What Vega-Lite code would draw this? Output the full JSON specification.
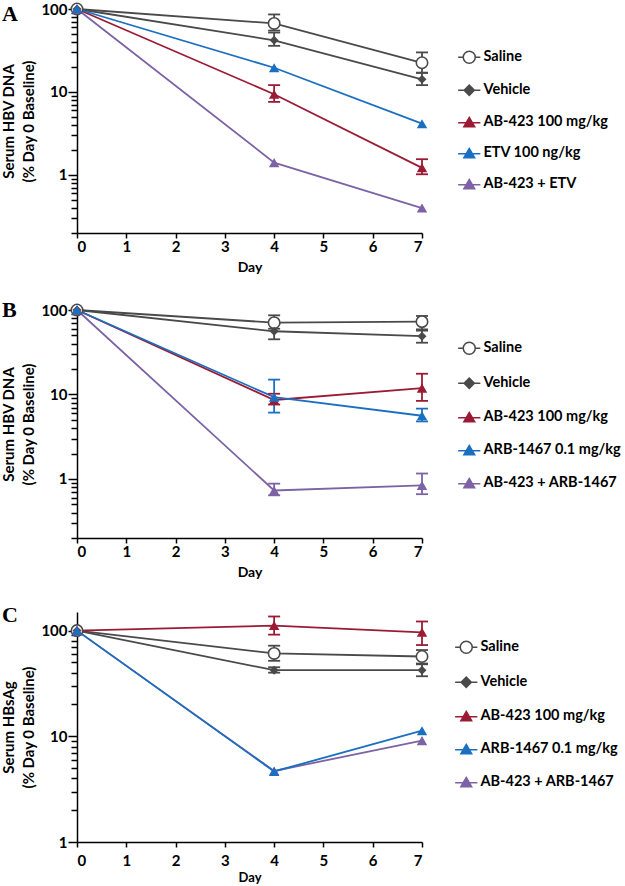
{
"$schema":"https://vega.github.io/schema/vega-lite/v6.json",
"background":"white",
"padding":{"left":1,"top":0,"right":0,"bottom":0},
"spacing":25,
"data":{"values":[
{"panel":"A","series":"Saline","day":0,"value":100},
{"panel":"A","series":"Saline","day":4,"value":67,"lo":55,"hi":86},
{"panel":"A","series":"Saline","day":7,"value":22.5,"lo":17,"hi":30},
{"panel":"A","series":"Vehicle","day":0,"value":100},
{"panel":"A","series":"Vehicle","day":4,"value":42,"lo":36,"hi":52},
{"panel":"A","series":"Vehicle","day":7,"value":14.2,"lo":12.1,"hi":17.1},
{"panel":"A","series":"AB-423 + ETV","day":0,"value":100},
{"panel":"A","series":"AB-423 + ETV","day":4,"value":1.41},
{"panel":"A","series":"AB-423 + ETV","day":7,"value":0.4},
{"panel":"A","series":"AB-423 100 mg/kg","day":0,"value":100},
{"panel":"A","series":"AB-423 100 mg/kg","day":4,"value":9.4,"lo":7.6,"hi":12.1},
{"panel":"A","series":"AB-423 100 mg/kg","day":7,"value":1.22,"lo":1.02,"hi":1.55},
{"panel":"A","series":"ETV 100 ng/kg","day":0,"value":100},
{"panel":"A","series":"ETV 100 ng/kg","day":4,"value":19.6},
{"panel":"A","series":"ETV 100 ng/kg","day":7,"value":4.15},
{"panel":"B","series":"Saline","day":0,"value":100},
{"panel":"B","series":"Saline","day":4,"value":70.8,"lo":60,"hi":86.5},
{"panel":"B","series":"Saline","day":7,"value":72.8,"lo":59,"hi":85},
{"panel":"B","series":"Vehicle","day":0,"value":100},
{"panel":"B","series":"Vehicle","day":4,"value":56,"lo":45,"hi":68},
{"panel":"B","series":"Vehicle","day":7,"value":49,"lo":41,"hi":57},
{"panel":"B","series":"AB-423 + ARB-1467","day":0,"value":100},
{"panel":"B","series":"AB-423 + ARB-1467","day":4,"value":0.73,"lo":0.64,"hi":0.88},
{"panel":"B","series":"AB-423 + ARB-1467","day":7,"value":0.84,"lo":0.66,"hi":1.16},
{"panel":"B","series":"AB-423 100 mg/kg","day":0,"value":100},
{"panel":"B","series":"AB-423 100 mg/kg","day":4,"value":8.6,"lo":7.6,"hi":10.2},
{"panel":"B","series":"AB-423 100 mg/kg","day":7,"value":11.9,"lo":8.4,"hi":17.6},
{"panel":"B","series":"ARB-1467 0.1 mg/kg","day":0,"value":100},
{"panel":"B","series":"ARB-1467 0.1 mg/kg","day":4,"value":9.3,"lo":6.1,"hi":15},
{"panel":"B","series":"ARB-1467 0.1 mg/kg","day":7,"value":5.6,"lo":4.8,"hi":6.8},
{"panel":"C","series":"Saline","day":0,"value":100},
{"panel":"C","series":"Saline","day":4,"value":60.8,"lo":51.8,"hi":72},
{"panel":"C","series":"Saline","day":7,"value":56.9,"lo":48,"hi":65.5},
{"panel":"C","series":"Vehicle","day":0,"value":100},
{"panel":"C","series":"Vehicle","day":4,"value":42.2,"lo":40,"hi":45},
{"panel":"C","series":"Vehicle","day":7,"value":42.2,"lo":37,"hi":48.8},
{"panel":"C","series":"AB-423 + ARB-1467","day":0,"value":100},
{"panel":"C","series":"AB-423 + ARB-1467","day":4,"value":4.7},
{"panel":"C","series":"AB-423 + ARB-1467","day":7,"value":9.1},
{"panel":"C","series":"AB-423 100 mg/kg","day":0,"value":100},
{"panel":"C","series":"AB-423 100 mg/kg","day":4,"value":111.6,"lo":91.6,"hi":136},
{"panel":"C","series":"AB-423 100 mg/kg","day":7,"value":96.4,"lo":73,"hi":122},
{"panel":"C","series":"ARB-1467 0.1 mg/kg","day":0,"value":100},
{"panel":"C","series":"ARB-1467 0.1 mg/kg","day":4,"value":4.65},
{"panel":"C","series":"ARB-1467 0.1 mg/kg","day":7,"value":11.3}
]},
"resolve":{"scale":{"x":"independent","y":"independent","color":"independent","stroke":"independent","fill":"independent","shape":"independent"},"legend":{"color":"independent","stroke":"independent","fill":"independent","shape":"independent"}},
"vconcat":[
{
"title":{"text":"A","anchor":"start","frame":"bounds","font":"Liberation Serif","fontSize":22,"fontWeight":"bold","color":"#000","dy":30},
"width":345,"height":224,
"transform":[{"filter":"datum.panel=='A'"}],
"encoding":{
"x":{"field":"day","type":"quantitative","title":"Day","scale":{"domain":[0,7],"nice":false,"zero":false},"axis":{"values":[0,1,2,3,4,5,6,7],"format":"d","titlePadding":6}},
"y":{"field":"value","type":"quantitative","title":["Serum HBV DNA","(% Day 0 Baseline)"],"scale":{"type":"log","domain":[0.2,100],"nice":false},"axis":{"values":[0.2,0.3,0.4,0.5,0.6,0.7,0.8,0.9,1,2,3,4,5,6,7,8,9,10,20,30,40,50,60,70,80,90,100],"labelExpr":"(datum.value==1||datum.value==10||datum.value==100)?(''+datum.value):''","labelOverlap":false,"tickSize":{"condition":{"test":"datum.value==1||datum.value==10||datum.value==100","value":9},"value":6}}},
"color":{"field":"series","type":"nominal","scale":{"domain":["AB-423 + ETV","ETV 100 ng/kg","AB-423 100 mg/kg","Vehicle","Saline"],"range":["#7d63a5","#1b6fc0","#9b1b35","#4a4a4a","#4a4a4a"]},"legend":null}
},
"layer":[
{"mark":{"type":"line","strokeWidth":1.8}},
{"transform":[{"filter":"isValid(datum.lo)"}],"mark":{"type":"rule","strokeWidth":1.8},"encoding":{"y":{"field":"lo","type":"quantitative","title":["Serum HBV DNA","(% Day 0 Baseline)"]},"y2":{"field":"hi"}}},
{"transform":[{"filter":"isValid(datum.lo)"}],"mark":{"type":"rule","strokeWidth":1.8,"xOffset":-6,"x2Offset":6},"encoding":{"x2":{"field":"day"},"y":{"field":"lo","type":"quantitative","title":["Serum HBV DNA","(% Day 0 Baseline)"]}}},
{"transform":[{"filter":"isValid(datum.hi)"}],"mark":{"type":"rule","strokeWidth":1.8,"xOffset":-6,"x2Offset":6},"encoding":{"x2":{"field":"day"},"y":{"field":"hi","type":"quantitative","title":["Serum HBV DNA","(% Day 0 Baseline)"]}}},
{"transform":[{"filter":"datum.series=='Saline'"}],"mark":{"type":"point","shape":"circle","size":130,"filled":false,"fill":"#ffffff","opacity":1,"strokeWidth":1.6}},
{"transform":[{"filter":"datum.series=='Vehicle'"}],"mark":{"type":"point","shape":"diamond","size":80,"filled":true,"opacity":1}},
{"transform":[{"filter":"datum.series!='Saline'&&datum.series!='Vehicle'"}],"mark":{"type":"point","shape":"triangle-up","size":110,"filled":true,"opacity":1}},
{"mark":{"type":"point","opacity":0,"filled":true,"size":144,"strokeWidth":1.5},"encoding":{
"color":null,
"shape":{"field":"series","type":"nominal","scale":{"domain":["Saline","Vehicle","AB-423 100 mg/kg","ETV 100 ng/kg","AB-423 + ETV"],"range":["M-1.85,0H-1M1,0H1.85M1,0A1,1,0,1,1,-1,0A1,1,0,1,1,1,0Z","M-1.85,0H1.85M0,-0.85L0.85,0L0,0.85L-0.85,0Z","M-1.85,0.1H1.85M0,-0.8L0.9,0.75L-0.9,0.75Z","M-1.85,0.1H1.85M0,-0.8L0.9,0.75L-0.9,0.75Z","M-1.85,0.1H1.85M0,-0.8L0.9,0.75L-0.9,0.75Z"]},"legend":{"orient":"none","legendX":385,"legendY":41,"title":null,"labelOffset":7,"rowPadding":15,"symbolOpacity":1,"symbolSize":144,"symbolStrokeWidth":1.5}},
"fill":{"field":"series","type":"nominal","scale":{"domain":["Saline","Vehicle","AB-423 100 mg/kg","ETV 100 ng/kg","AB-423 + ETV"],"range":["#ffffff","#4a4a4a","#9b1b35","#1b6fc0","#7d63a5"]},"legend":{"orient":"none","legendX":385,"legendY":41,"title":null,"labelOffset":7,"rowPadding":15,"symbolOpacity":1,"symbolSize":144,"symbolStrokeWidth":1.5}},
"stroke":{"field":"series","type":"nominal","scale":{"domain":["Saline","Vehicle","AB-423 100 mg/kg","ETV 100 ng/kg","AB-423 + ETV"],"range":["#4a4a4a","#4a4a4a","#9b1b35","#1b6fc0","#7d63a5"]},"legend":{"orient":"none","legendX":385,"legendY":41,"title":null,"labelOffset":7,"rowPadding":15,"symbolOpacity":1,"symbolSize":144,"symbolStrokeWidth":1.5}}
}}
]
},
{
"title":{"text":"B","anchor":"start","frame":"bounds","font":"Liberation Serif","fontSize":22,"fontWeight":"bold","color":"#000","dy":25},
"width":345,"height":228,
"transform":[{"filter":"datum.panel=='B'"}],
"encoding":{
"x":{"field":"day","type":"quantitative","title":"Day","scale":{"domain":[0,7],"nice":false,"zero":false},"axis":{"values":[0,1,2,3,4,5,6,7],"format":"d","titlePadding":6}},
"y":{"field":"value","type":"quantitative","title":["Serum HBV DNA","(% Day 0 Baseline)"],"scale":{"type":"log","domain":[0.2,100],"nice":false},"axis":{"values":[0.2,0.3,0.4,0.5,0.6,0.7,0.8,0.9,1,2,3,4,5,6,7,8,9,10,20,30,40,50,60,70,80,90,100],"labelExpr":"(datum.value==1||datum.value==10||datum.value==100)?(''+datum.value):''","labelOverlap":false,"tickSize":{"condition":{"test":"datum.value==1||datum.value==10||datum.value==100","value":9},"value":6}}},
"color":{"field":"series","type":"nominal","scale":{"domain":["AB-423 + ARB-1467","ARB-1467 0.1 mg/kg","AB-423 100 mg/kg","Vehicle","Saline"],"range":["#7d63a5","#1b6fc0","#9b1b35","#4a4a4a","#4a4a4a"]},"legend":null}
},
"layer":[
{"mark":{"type":"line","strokeWidth":1.8}},
{"transform":[{"filter":"isValid(datum.lo)"}],"mark":{"type":"rule","strokeWidth":1.8},"encoding":{"y":{"field":"lo","type":"quantitative","title":["Serum HBV DNA","(% Day 0 Baseline)"]},"y2":{"field":"hi"}}},
{"transform":[{"filter":"isValid(datum.lo)"}],"mark":{"type":"rule","strokeWidth":1.8,"xOffset":-6,"x2Offset":6},"encoding":{"x2":{"field":"day"},"y":{"field":"lo","type":"quantitative","title":["Serum HBV DNA","(% Day 0 Baseline)"]}}},
{"transform":[{"filter":"isValid(datum.hi)"}],"mark":{"type":"rule","strokeWidth":1.8,"xOffset":-6,"x2Offset":6},"encoding":{"x2":{"field":"day"},"y":{"field":"hi","type":"quantitative","title":["Serum HBV DNA","(% Day 0 Baseline)"]}}},
{"transform":[{"filter":"datum.series=='Saline'"}],"mark":{"type":"point","shape":"circle","size":130,"filled":false,"fill":"#ffffff","opacity":1,"strokeWidth":1.6}},
{"transform":[{"filter":"datum.series=='Vehicle'"}],"mark":{"type":"point","shape":"diamond","size":80,"filled":true,"opacity":1}},
{"transform":[{"filter":"datum.series!='Saline'&&datum.series!='Vehicle'"}],"mark":{"type":"point","shape":"triangle-up","size":110,"filled":true,"opacity":1}},
{"mark":{"type":"point","opacity":0,"filled":true,"size":144,"strokeWidth":1.5},"encoding":{
"color":null,
"shape":{"field":"series","type":"nominal","scale":{"domain":["Saline","Vehicle","AB-423 100 mg/kg","ARB-1467 0.1 mg/kg","AB-423 + ARB-1467"],"range":["M-1.85,0H-1M1,0H1.85M1,0A1,1,0,1,1,-1,0A1,1,0,1,1,1,0Z","M-1.85,0H1.85M0,-0.85L0.85,0L0,0.85L-0.85,0Z","M-1.85,0.1H1.85M0,-0.8L0.9,0.75L-0.9,0.75Z","M-1.85,0.1H1.85M0,-0.8L0.9,0.75L-0.9,0.75Z","M-1.85,0.1H1.85M0,-0.8L0.9,0.75L-0.9,0.75Z"]},"legend":{"orient":"none","legendX":385,"legendY":31,"title":null,"labelOffset":7,"rowPadding":17,"symbolOpacity":1,"symbolSize":144,"symbolStrokeWidth":1.5}},
"fill":{"field":"series","type":"nominal","scale":{"domain":["Saline","Vehicle","AB-423 100 mg/kg","ARB-1467 0.1 mg/kg","AB-423 + ARB-1467"],"range":["#ffffff","#4a4a4a","#9b1b35","#1b6fc0","#7d63a5"]},"legend":{"orient":"none","legendX":385,"legendY":31,"title":null,"labelOffset":7,"rowPadding":17,"symbolOpacity":1,"symbolSize":144,"symbolStrokeWidth":1.5}},
"stroke":{"field":"series","type":"nominal","scale":{"domain":["Saline","Vehicle","AB-423 100 mg/kg","ARB-1467 0.1 mg/kg","AB-423 + ARB-1467"],"range":["#4a4a4a","#4a4a4a","#9b1b35","#1b6fc0","#7d63a5"]},"legend":{"orient":"none","legendX":385,"legendY":31,"title":null,"labelOffset":7,"rowPadding":17,"symbolOpacity":1,"symbolSize":144,"symbolStrokeWidth":1.5}}
}}
]
},
{
"title":{"text":"C","anchor":"start","frame":"bounds","font":"Liberation Serif","fontSize":22,"fontWeight":"bold","color":"#000","dy":19},
"width":345,"height":230,
"transform":[{"filter":"datum.panel=='C'"}],
"encoding":{
"x":{"field":"day","type":"quantitative","title":"Day","scale":{"domain":[0,7],"nice":false,"zero":false},"axis":{"values":[0,1,2,3,4,5,6,7],"format":"d","titleFontSize":13,"titlePadding":3,"labelPadding":6}},
"y":{"field":"value","type":"quantitative","title":["Serum HBsAg","(% Day 0 Baseline)"],"scale":{"type":"log","domain":[1,150],"nice":false},"axis":{"values":[1,2,3,4,5,6,7,8,9,10,20,30,40,50,60,70,80,90,100],"labelExpr":"(datum.value==1||datum.value==10||datum.value==100)?(''+datum.value):''","labelOverlap":false,"tickSize":{"condition":{"test":"datum.value==1||datum.value==10||datum.value==100","value":9},"value":6}}},
"color":{"field":"series","type":"nominal","scale":{"domain":["AB-423 + ARB-1467","ARB-1467 0.1 mg/kg","AB-423 100 mg/kg","Vehicle","Saline"],"range":["#7d63a5","#1b6fc0","#9b1b35","#4a4a4a","#4a4a4a"]},"legend":null}
},
"layer":[
{"mark":{"type":"line","strokeWidth":1.8}},
{"transform":[{"filter":"isValid(datum.lo)"}],"mark":{"type":"rule","strokeWidth":1.8},"encoding":{"y":{"field":"lo","type":"quantitative","title":["Serum HBsAg","(% Day 0 Baseline)"]},"y2":{"field":"hi"}}},
{"transform":[{"filter":"isValid(datum.lo)"}],"mark":{"type":"rule","strokeWidth":1.8,"xOffset":-6,"x2Offset":6},"encoding":{"x2":{"field":"day"},"y":{"field":"lo","type":"quantitative","title":["Serum HBsAg","(% Day 0 Baseline)"]}}},
{"transform":[{"filter":"isValid(datum.hi)"}],"mark":{"type":"rule","strokeWidth":1.8,"xOffset":-6,"x2Offset":6},"encoding":{"x2":{"field":"day"},"y":{"field":"hi","type":"quantitative","title":["Serum HBsAg","(% Day 0 Baseline)"]}}},
{"transform":[{"filter":"datum.series=='Saline'"}],"mark":{"type":"point","shape":"circle","size":130,"filled":false,"fill":"#ffffff","opacity":1,"strokeWidth":1.6}},
{"transform":[{"filter":"datum.series=='Vehicle'"}],"mark":{"type":"point","shape":"diamond","size":80,"filled":true,"opacity":1}},
{"transform":[{"filter":"datum.series!='Saline'&&datum.series!='Vehicle'"}],"mark":{"type":"point","shape":"triangle-up","size":110,"filled":true,"opacity":1}},
{"mark":{"type":"point","opacity":0,"filled":true,"size":144,"strokeWidth":1.5},"encoding":{
"color":null,
"shape":{"field":"series","type":"nominal","scale":{"domain":["Saline","Vehicle","AB-423 100 mg/kg","ARB-1467 0.1 mg/kg","AB-423 + ARB-1467"],"range":["M-1.85,0H-1M1,0H1.85M1,0A1,1,0,1,1,-1,0A1,1,0,1,1,1,0Z","M-1.85,0H1.85M0,-0.85L0.85,0L0,0.85L-0.85,0Z","M-1.85,0.1H1.85M0,-0.8L0.9,0.75L-0.9,0.75Z","M-1.85,0.1H1.85M0,-0.8L0.9,0.75L-0.9,0.75Z","M-1.85,0.1H1.85M0,-0.8L0.9,0.75L-0.9,0.75Z"]},"legend":{"orient":"none","legendX":382,"legendY":28,"title":null,"labelOffset":7,"rowPadding":17,"symbolOpacity":1,"symbolSize":144,"symbolStrokeWidth":1.5}},
"fill":{"field":"series","type":"nominal","scale":{"domain":["Saline","Vehicle","AB-423 100 mg/kg","ARB-1467 0.1 mg/kg","AB-423 + ARB-1467"],"range":["#ffffff","#4a4a4a","#9b1b35","#1b6fc0","#7d63a5"]},"legend":{"orient":"none","legendX":382,"legendY":28,"title":null,"labelOffset":7,"rowPadding":17,"symbolOpacity":1,"symbolSize":144,"symbolStrokeWidth":1.5}},
"stroke":{"field":"series","type":"nominal","scale":{"domain":["Saline","Vehicle","AB-423 100 mg/kg","ARB-1467 0.1 mg/kg","AB-423 + ARB-1467"],"range":["#4a4a4a","#4a4a4a","#9b1b35","#1b6fc0","#7d63a5"]},"legend":{"orient":"none","legendX":382,"legendY":28,"title":null,"labelOffset":7,"rowPadding":17,"symbolOpacity":1,"symbolSize":144,"symbolStrokeWidth":1.5}}
}}
]
}
],
"config":{
"view":{"stroke":null},
"axis":{"labelFont":"Lato","labelFontWeight":"bold","labelFontSize":15,"labelColor":"#000","titleFont":"Lato","titleFontWeight":"bold","titleFontSize":14,"titleColor":"#000","domainColor":"#000","domainWidth":1.5,"tickColor":"#000","tickWidth":1.5,"grid":false,"labelPadding":1,"titlePadding":2},
"axisY":{"titleLineHeight":20,"titlePadding":4,"titleFontSize":15},
"legend":{"labelFont":"Lato","labelFontWeight":"bold","labelFontSize":14.5,"labelColor":"#000"}
}
}
